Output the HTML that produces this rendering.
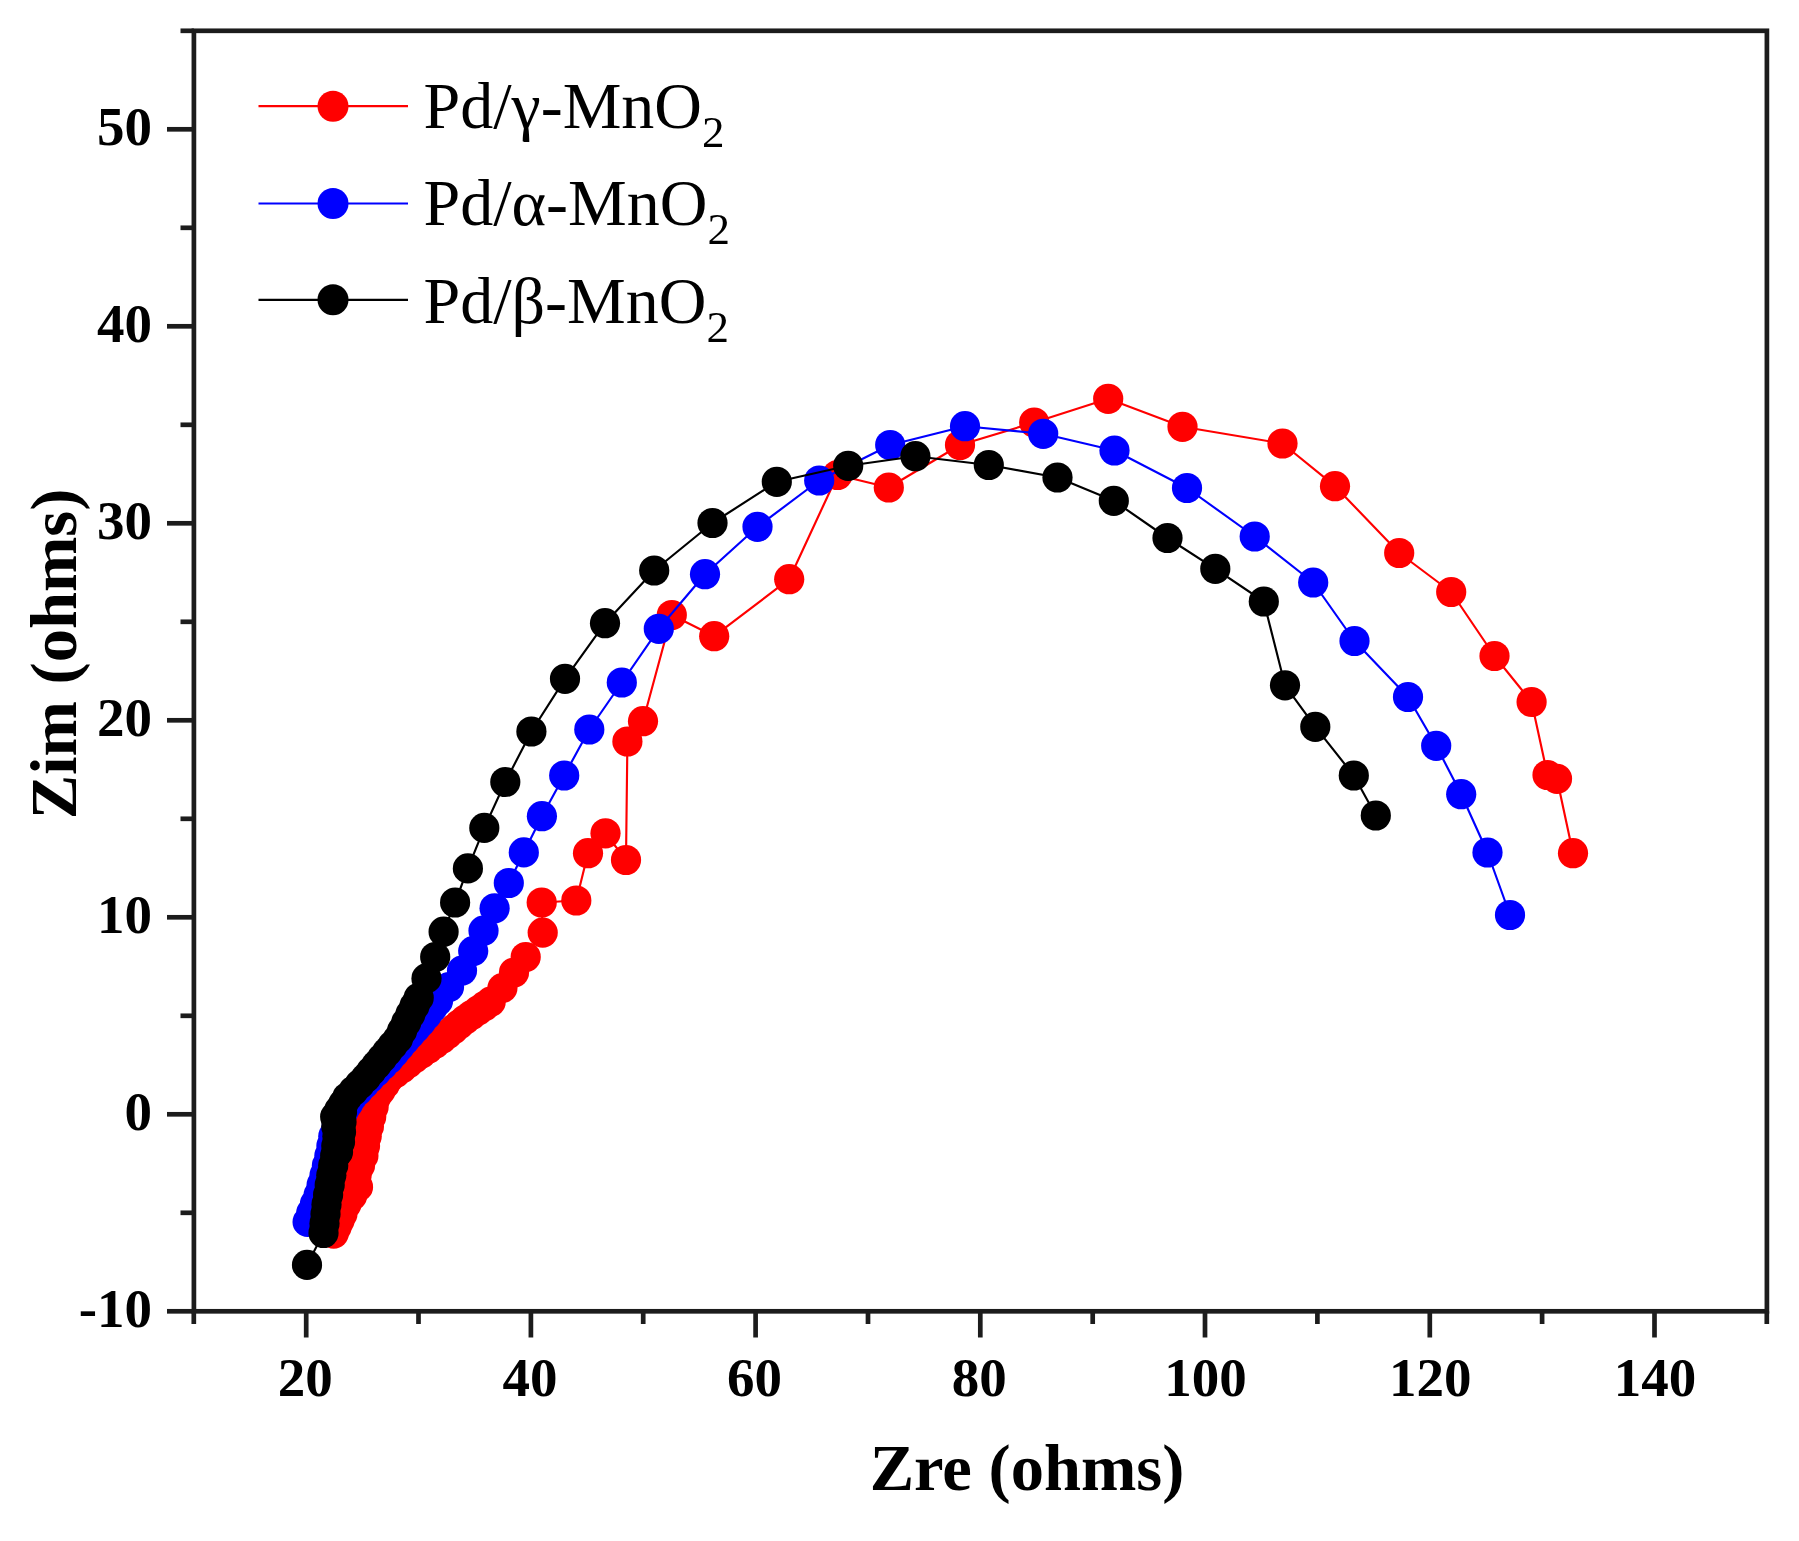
<!DOCTYPE html>
<html><head><meta charset="utf-8"><title>Nyquist plot</title>
<style>html,body{margin:0;padding:0;background:#fff}body{width:1799px;height:1541px;overflow:hidden}svg{display:block;filter:blur(0.7px)}text{font-family:"Liberation Serif","Times New Roman",serif;fill:#000}.tk{font-size:55px;font-weight:bold}.al{font-size:66.5px;font-weight:bold}.lg{font-size:66px}.sb{font-size:45px}</style></head><body>
<svg width="1799" height="1541" viewBox="0 0 1799 1541">
<rect width="1799" height="1541" fill="#fff"/>
<polyline fill="none" stroke="#ff0000" stroke-width="2.15" stroke-linejoin="round" points="1573.0,853.2 1557.0,778.8 1547.5,775.0 1531.6,702.0 1494.5,656.0 1451.2,592.0 1399.2,553.0 1335.0,486.2 1282.5,443.5 1182.5,426.8 1108.2,398.8 1034.2,422.5 960.0,445.0 888.8,487.5 837.5,475.0 789.2,579.2 714.2,636.2 671.8,615.0 643.0,721.2 627.4,741.5 626.0,860.0 605.5,833.3 588.0,853.2 576.3,900.5 541.7,902.5 542.7,932.6 525.7,957.0 514.0,972.5 502.4,988.1 490.7,1001.7 484.4,1006.2 478.0,1010.6 471.6,1015.0 465.3,1019.5 459.4,1024.3 453.6,1029.2 447.8,1034.1 441.9,1038.9 435.1,1043.8 428.2,1048.7 421.4,1053.5 414.6,1058.4 408.3,1063.3 402.0,1068.2 395.6,1073.0 389.3,1077.9 384.9,1084.4 380.5,1090.8 376.1,1097.3 373.6,1107.0 371.2,1116.8 368.9,1126.5 366.7,1136.3 365.0,1146.0 363.4,1155.7 360.0,1165.5 356.6,1175.2 358.0,1186.9 352.1,1195.7 346.3,1204.4 342.4,1214.1 339.5,1220.6 336.6,1227.1 333.7,1233.6"/>
<g fill="#ff0000">
<circle cx="1573.0" cy="853.2" r="15.1"/>
<circle cx="1557.0" cy="778.8" r="15.1"/>
<circle cx="1547.5" cy="775.0" r="15.1"/>
<circle cx="1531.6" cy="702.0" r="15.1"/>
<circle cx="1494.5" cy="656.0" r="15.1"/>
<circle cx="1451.2" cy="592.0" r="15.1"/>
<circle cx="1399.2" cy="553.0" r="15.1"/>
<circle cx="1335.0" cy="486.2" r="15.1"/>
<circle cx="1282.5" cy="443.5" r="15.1"/>
<circle cx="1182.5" cy="426.8" r="15.1"/>
<circle cx="1108.2" cy="398.8" r="15.1"/>
<circle cx="1034.2" cy="422.5" r="15.1"/>
<circle cx="960.0" cy="445.0" r="15.1"/>
<circle cx="888.8" cy="487.5" r="15.1"/>
<circle cx="837.5" cy="475.0" r="15.1"/>
<circle cx="789.2" cy="579.2" r="15.1"/>
<circle cx="714.2" cy="636.2" r="15.1"/>
<circle cx="671.8" cy="615.0" r="15.1"/>
<circle cx="643.0" cy="721.2" r="15.1"/>
<circle cx="627.4" cy="741.5" r="15.1"/>
<circle cx="626.0" cy="860.0" r="15.1"/>
<circle cx="605.5" cy="833.3" r="15.1"/>
<circle cx="588.0" cy="853.2" r="15.1"/>
<circle cx="576.3" cy="900.5" r="15.1"/>
<circle cx="541.7" cy="902.5" r="15.1"/>
<circle cx="542.7" cy="932.6" r="15.1"/>
<circle cx="525.7" cy="957.0" r="15.1"/>
<circle cx="514.0" cy="972.5" r="15.1"/>
<circle cx="502.4" cy="988.1" r="15.1"/>
<circle cx="490.7" cy="1001.7" r="15.1"/>
<circle cx="484.4" cy="1006.2" r="15.1"/>
<circle cx="478.0" cy="1010.6" r="15.1"/>
<circle cx="471.6" cy="1015.0" r="15.1"/>
<circle cx="465.3" cy="1019.5" r="15.1"/>
<circle cx="459.4" cy="1024.3" r="15.1"/>
<circle cx="453.6" cy="1029.2" r="15.1"/>
<circle cx="447.8" cy="1034.1" r="15.1"/>
<circle cx="441.9" cy="1038.9" r="15.1"/>
<circle cx="435.1" cy="1043.8" r="15.1"/>
<circle cx="428.2" cy="1048.7" r="15.1"/>
<circle cx="421.4" cy="1053.5" r="15.1"/>
<circle cx="414.6" cy="1058.4" r="15.1"/>
<circle cx="408.3" cy="1063.3" r="15.1"/>
<circle cx="402.0" cy="1068.2" r="15.1"/>
<circle cx="395.6" cy="1073.0" r="15.1"/>
<circle cx="389.3" cy="1077.9" r="15.1"/>
<circle cx="384.9" cy="1084.4" r="15.1"/>
<circle cx="380.5" cy="1090.8" r="15.1"/>
<circle cx="376.1" cy="1097.3" r="15.1"/>
<circle cx="373.6" cy="1107.0" r="15.1"/>
<circle cx="371.2" cy="1116.8" r="15.1"/>
<circle cx="368.9" cy="1126.5" r="15.1"/>
<circle cx="366.7" cy="1136.3" r="15.1"/>
<circle cx="365.0" cy="1146.0" r="15.1"/>
<circle cx="363.4" cy="1155.7" r="15.1"/>
<circle cx="360.0" cy="1165.5" r="15.1"/>
<circle cx="356.6" cy="1175.2" r="15.1"/>
<circle cx="358.0" cy="1186.9" r="15.1"/>
<circle cx="352.1" cy="1195.7" r="15.1"/>
<circle cx="346.3" cy="1204.4" r="15.1"/>
<circle cx="342.4" cy="1214.1" r="15.1"/>
<circle cx="339.5" cy="1220.6" r="15.1"/>
<circle cx="336.6" cy="1227.1" r="15.1"/>
<circle cx="333.7" cy="1233.6" r="15.1"/>
</g>
<polyline fill="none" stroke="#0000ff" stroke-width="2.15" stroke-linejoin="round" points="1510.0,915.0 1487.5,852.5 1461.2,794.2 1436.2,745.8 1408.0,697.0 1354.5,641.0 1313.2,582.5 1254.7,536.5 1187.0,488.0 1114.5,450.5 1043.2,433.8 965.0,426.2 890.2,445.0 819.2,480.5 757.5,526.8 705.0,574.2 658.8,628.8 621.8,682.5 589.3,729.5 564.2,775.5 541.9,816.2 523.8,852.4 508.8,883.0 494.6,908.3 483.5,930.7 473.2,951.1 462.0,970.6 449.0,987.0 438.0,1001.0 432.3,1008.0 426.7,1015.0 421.0,1022.0 415.7,1028.0 410.3,1034.0 405.0,1040.0 399.7,1046.3 394.3,1052.7 389.0,1059.0 382.7,1065.3 376.3,1071.7 370.0,1078.0 364.0,1084.4 358.0,1090.9 352.0,1097.3 348.0,1103.8 344.0,1110.3 340.0,1116.8 336.6,1126.5 333.3,1136.3 331.4,1146.0 329.4,1155.7 326.9,1165.5 324.5,1175.2 321.6,1185.0 318.7,1194.7 315.0,1203.8 311.3,1212.8 307.6,1221.9"/>
<g fill="#0000ff">
<circle cx="1510.0" cy="915.0" r="15.1"/>
<circle cx="1487.5" cy="852.5" r="15.1"/>
<circle cx="1461.2" cy="794.2" r="15.1"/>
<circle cx="1436.2" cy="745.8" r="15.1"/>
<circle cx="1408.0" cy="697.0" r="15.1"/>
<circle cx="1354.5" cy="641.0" r="15.1"/>
<circle cx="1313.2" cy="582.5" r="15.1"/>
<circle cx="1254.7" cy="536.5" r="15.1"/>
<circle cx="1187.0" cy="488.0" r="15.1"/>
<circle cx="1114.5" cy="450.5" r="15.1"/>
<circle cx="1043.2" cy="433.8" r="15.1"/>
<circle cx="965.0" cy="426.2" r="15.1"/>
<circle cx="890.2" cy="445.0" r="15.1"/>
<circle cx="819.2" cy="480.5" r="15.1"/>
<circle cx="757.5" cy="526.8" r="15.1"/>
<circle cx="705.0" cy="574.2" r="15.1"/>
<circle cx="658.8" cy="628.8" r="15.1"/>
<circle cx="621.8" cy="682.5" r="15.1"/>
<circle cx="589.3" cy="729.5" r="15.1"/>
<circle cx="564.2" cy="775.5" r="15.1"/>
<circle cx="541.9" cy="816.2" r="15.1"/>
<circle cx="523.8" cy="852.4" r="15.1"/>
<circle cx="508.8" cy="883.0" r="15.1"/>
<circle cx="494.6" cy="908.3" r="15.1"/>
<circle cx="483.5" cy="930.7" r="15.1"/>
<circle cx="473.2" cy="951.1" r="15.1"/>
<circle cx="462.0" cy="970.6" r="15.1"/>
<circle cx="449.0" cy="987.0" r="15.1"/>
<circle cx="438.0" cy="1001.0" r="15.1"/>
<circle cx="432.3" cy="1008.0" r="15.1"/>
<circle cx="426.7" cy="1015.0" r="15.1"/>
<circle cx="421.0" cy="1022.0" r="15.1"/>
<circle cx="415.7" cy="1028.0" r="15.1"/>
<circle cx="410.3" cy="1034.0" r="15.1"/>
<circle cx="405.0" cy="1040.0" r="15.1"/>
<circle cx="399.7" cy="1046.3" r="15.1"/>
<circle cx="394.3" cy="1052.7" r="15.1"/>
<circle cx="389.0" cy="1059.0" r="15.1"/>
<circle cx="382.7" cy="1065.3" r="15.1"/>
<circle cx="376.3" cy="1071.7" r="15.1"/>
<circle cx="370.0" cy="1078.0" r="15.1"/>
<circle cx="364.0" cy="1084.4" r="15.1"/>
<circle cx="358.0" cy="1090.9" r="15.1"/>
<circle cx="352.0" cy="1097.3" r="15.1"/>
<circle cx="348.0" cy="1103.8" r="15.1"/>
<circle cx="344.0" cy="1110.3" r="15.1"/>
<circle cx="340.0" cy="1116.8" r="15.1"/>
<circle cx="336.6" cy="1126.5" r="15.1"/>
<circle cx="333.3" cy="1136.3" r="15.1"/>
<circle cx="331.4" cy="1146.0" r="15.1"/>
<circle cx="329.4" cy="1155.7" r="15.1"/>
<circle cx="326.9" cy="1165.5" r="15.1"/>
<circle cx="324.5" cy="1175.2" r="15.1"/>
<circle cx="321.6" cy="1185.0" r="15.1"/>
<circle cx="318.7" cy="1194.7" r="15.1"/>
<circle cx="315.0" cy="1203.8" r="15.1"/>
<circle cx="311.3" cy="1212.8" r="15.1"/>
<circle cx="307.6" cy="1221.9" r="15.1"/>
</g>
<polyline fill="none" stroke="#000000" stroke-width="2.15" stroke-linejoin="round" points="1375.8,815.5 1353.8,775.5 1315.3,726.8 1285.0,685.3 1263.8,601.5 1215.3,568.8 1167.5,538.0 1113.8,500.8 1057.5,477.5 988.8,465.0 915.4,456.2 848.2,465.8 776.8,481.8 712.5,523.0 654.2,570.5 605.0,623.2 565.0,678.8 531.4,731.5 505.3,782.0 484.3,827.9 467.9,868.4 455.1,902.5 443.6,931.7 435.2,957.0 426.5,978.4 418.7,997.8 414.5,1006.0 410.4,1014.2 406.2,1022.5 402.1,1030.7 397.9,1038.9 392.5,1045.4 387.2,1051.9 381.9,1058.4 376.5,1064.9 371.1,1071.4 365.8,1077.9 359.6,1084.4 353.5,1090.8 347.3,1097.3 343.3,1103.8 339.2,1110.3 335.2,1116.8 336.3,1126.5 337.4,1136.3 336.3,1146.0 335.2,1155.7 333.2,1165.5 331.3,1175.2 329.7,1184.9 328.1,1194.7 326.5,1204.4 325.5,1213.9 324.5,1223.5 323.5,1233.0 307.0,1264.9"/>
<g fill="#000000">
<circle cx="1375.8" cy="815.5" r="15.1"/>
<circle cx="1353.8" cy="775.5" r="15.1"/>
<circle cx="1315.3" cy="726.8" r="15.1"/>
<circle cx="1285.0" cy="685.3" r="15.1"/>
<circle cx="1263.8" cy="601.5" r="15.1"/>
<circle cx="1215.3" cy="568.8" r="15.1"/>
<circle cx="1167.5" cy="538.0" r="15.1"/>
<circle cx="1113.8" cy="500.8" r="15.1"/>
<circle cx="1057.5" cy="477.5" r="15.1"/>
<circle cx="988.8" cy="465.0" r="15.1"/>
<circle cx="915.4" cy="456.2" r="15.1"/>
<circle cx="848.2" cy="465.8" r="15.1"/>
<circle cx="776.8" cy="481.8" r="15.1"/>
<circle cx="712.5" cy="523.0" r="15.1"/>
<circle cx="654.2" cy="570.5" r="15.1"/>
<circle cx="605.0" cy="623.2" r="15.1"/>
<circle cx="565.0" cy="678.8" r="15.1"/>
<circle cx="531.4" cy="731.5" r="15.1"/>
<circle cx="505.3" cy="782.0" r="15.1"/>
<circle cx="484.3" cy="827.9" r="15.1"/>
<circle cx="467.9" cy="868.4" r="15.1"/>
<circle cx="455.1" cy="902.5" r="15.1"/>
<circle cx="443.6" cy="931.7" r="15.1"/>
<circle cx="435.2" cy="957.0" r="15.1"/>
<circle cx="426.5" cy="978.4" r="15.1"/>
<circle cx="418.7" cy="997.8" r="15.1"/>
<circle cx="414.5" cy="1006.0" r="15.1"/>
<circle cx="410.4" cy="1014.2" r="15.1"/>
<circle cx="406.2" cy="1022.5" r="15.1"/>
<circle cx="402.1" cy="1030.7" r="15.1"/>
<circle cx="397.9" cy="1038.9" r="15.1"/>
<circle cx="392.5" cy="1045.4" r="15.1"/>
<circle cx="387.2" cy="1051.9" r="15.1"/>
<circle cx="381.9" cy="1058.4" r="15.1"/>
<circle cx="376.5" cy="1064.9" r="15.1"/>
<circle cx="371.1" cy="1071.4" r="15.1"/>
<circle cx="365.8" cy="1077.9" r="15.1"/>
<circle cx="359.6" cy="1084.4" r="15.1"/>
<circle cx="353.5" cy="1090.8" r="15.1"/>
<circle cx="347.3" cy="1097.3" r="15.1"/>
<circle cx="343.3" cy="1103.8" r="15.1"/>
<circle cx="339.2" cy="1110.3" r="15.1"/>
<circle cx="335.2" cy="1116.8" r="15.1"/>
<circle cx="336.3" cy="1126.5" r="15.1"/>
<circle cx="337.4" cy="1136.3" r="15.1"/>
<circle cx="336.3" cy="1146.0" r="15.1"/>
<circle cx="335.2" cy="1155.7" r="15.1"/>
<circle cx="333.2" cy="1165.5" r="15.1"/>
<circle cx="331.3" cy="1175.2" r="15.1"/>
<circle cx="329.7" cy="1184.9" r="15.1"/>
<circle cx="328.1" cy="1194.7" r="15.1"/>
<circle cx="326.5" cy="1204.4" r="15.1"/>
<circle cx="325.5" cy="1213.9" r="15.1"/>
<circle cx="324.5" cy="1223.5" r="15.1"/>
<circle cx="323.5" cy="1233.0" r="15.1"/>
<circle cx="307.0" cy="1264.9" r="15.1"/>
<circle cx="342.0" cy="1112.0" r="15.1"/>
<circle cx="341.5" cy="1122.0" r="15.1"/>
<circle cx="341.0" cy="1132.0" r="15.1"/>
<circle cx="340.0" cy="1142.0" r="15.1"/>
<circle cx="338.0" cy="1152.0" r="15.1"/>
</g>
<g stroke="#1c1c1c" stroke-width="4.7" fill="none" stroke-linecap="butt">
<rect x="193.9" y="30.8" width="1573.0" height="1280.5"/>
<line x1="167" x2="193.9" y1="1311.3" y2="1311.3"/>
<line x1="180.5" x2="193.9" y1="1212.8" y2="1212.8"/>
<line x1="167" x2="193.9" y1="1114.3" y2="1114.3"/>
<line x1="180.5" x2="193.9" y1="1015.8" y2="1015.8"/>
<line x1="167" x2="193.9" y1="917.3" y2="917.3"/>
<line x1="180.5" x2="193.9" y1="818.8" y2="818.8"/>
<line x1="167" x2="193.9" y1="720.3" y2="720.3"/>
<line x1="180.5" x2="193.9" y1="621.8" y2="621.8"/>
<line x1="167" x2="193.9" y1="523.3" y2="523.3"/>
<line x1="180.5" x2="193.9" y1="424.8" y2="424.8"/>
<line x1="167" x2="193.9" y1="326.3" y2="326.3"/>
<line x1="180.5" x2="193.9" y1="227.8" y2="227.8"/>
<line x1="167" x2="193.9" y1="129.3" y2="129.3"/>
<line x1="180.5" x2="193.9" y1="30.8" y2="30.8"/>
<line y1="1311.3" y2="1324" x1="193.8" x2="193.8"/>
<line y1="1311.3" y2="1337.5" x1="306.2" x2="306.2"/>
<line y1="1311.3" y2="1324" x1="418.5" x2="418.5"/>
<line y1="1311.3" y2="1337.5" x1="530.9" x2="530.9"/>
<line y1="1311.3" y2="1324" x1="643.2" x2="643.2"/>
<line y1="1311.3" y2="1337.5" x1="755.6" x2="755.6"/>
<line y1="1311.3" y2="1324" x1="868.0" x2="868.0"/>
<line y1="1311.3" y2="1337.5" x1="980.3" x2="980.3"/>
<line y1="1311.3" y2="1324" x1="1092.7" x2="1092.7"/>
<line y1="1311.3" y2="1337.5" x1="1205.0" x2="1205.0"/>
<line y1="1311.3" y2="1324" x1="1317.4" x2="1317.4"/>
<line y1="1311.3" y2="1337.5" x1="1429.8" x2="1429.8"/>
<line y1="1311.3" y2="1324" x1="1542.1" x2="1542.1"/>
<line y1="1311.3" y2="1337.5" x1="1654.5" x2="1654.5"/>
<line y1="1311.3" y2="1324" x1="1766.8" x2="1766.8"/>
</g>
<text class="tk" text-anchor="end" x="152" y="1327.3">-10</text>
<text class="tk" text-anchor="end" x="152" y="1130.3">0</text>
<text class="tk" text-anchor="end" x="152" y="933.3">10</text>
<text class="tk" text-anchor="end" x="152" y="736.3">20</text>
<text class="tk" text-anchor="end" x="152" y="539.3">30</text>
<text class="tk" text-anchor="end" x="152" y="342.3">40</text>
<text class="tk" text-anchor="end" x="152" y="145.3">50</text>
<text class="tk" text-anchor="middle" x="305.2" y="1396">20</text>
<text class="tk" text-anchor="middle" x="529.9" y="1396">40</text>
<text class="tk" text-anchor="middle" x="754.6" y="1396">60</text>
<text class="tk" text-anchor="middle" x="979.3" y="1396">80</text>
<text class="tk" text-anchor="middle" x="1205.5" y="1396">100</text>
<text class="tk" text-anchor="middle" x="1430.3" y="1396">120</text>
<text class="tk" text-anchor="middle" x="1655.0" y="1396">140</text>
<text class="al" text-anchor="middle" x="1027" y="1490">Zre (ohms)</text>
<text class="al" text-anchor="middle" transform="translate(76,654) rotate(-90)">Zim (ohms)</text>
<line x1="258.5" x2="408" y1="106.2" y2="106.2" stroke="#ff0000" stroke-width="2.2"/>
<circle cx="333" cy="106.2" r="15.5" fill="#ff0000"/>
<text class="lg" x="423.5" y="127.9">Pd/γ-MnO<tspan class="sb" dy="19">2</tspan></text>
<line x1="258.5" x2="408" y1="203.5" y2="203.5" stroke="#0000ff" stroke-width="2.2"/>
<circle cx="333" cy="203.5" r="15.5" fill="#0000ff"/>
<text class="lg" x="423.5" y="225.1">Pd/α-MnO<tspan class="sb" dy="19">2</tspan></text>
<line x1="258.5" x2="408" y1="299.8" y2="299.8" stroke="#000000" stroke-width="2.2"/>
<circle cx="333" cy="299.8" r="15.5" fill="#000000"/>
<text class="lg" x="423.5" y="322.5">Pd/β-MnO<tspan class="sb" dy="19">2</tspan></text>
</svg></body></html>
